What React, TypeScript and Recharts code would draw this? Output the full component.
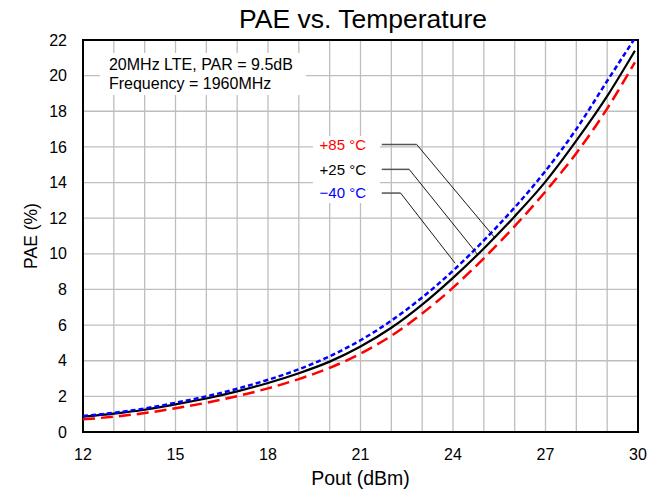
import React from 'react';
import {
  LineChart,
  Line,
  XAxis,
  YAxis,
  CartesianGrid,
  ReferenceArea,
  ReferenceLine,
  ReferenceDot,
} from 'recharts';

// ---- data ----
const pout = [12, 13, 14, 15, 16, 17, 18, 19, 20, 21, 22, 23, 24, 25, 26, 27, 28, 29, 29.9];
const pae25 = [0.86, 1.03, 1.25, 1.55, 1.88, 2.28, 2.75, 3.3, 3.95, 4.8, 5.85, 7.15, 8.65, 10.3, 12.1, 14.05, 16.35, 18.85, 21.4];
const paeM40 = [0.9, 1.08, 1.32, 1.64, 2.0, 2.43, 2.93, 3.52, 4.25, 5.15, 6.25, 7.55, 9.05, 10.75, 12.6, 14.65, 17.0, 19.7, 22.1];
const pae85 = [0.71, 0.86, 1.06, 1.33, 1.64, 2.01, 2.45, 2.97, 3.6, 4.4, 5.4, 6.65, 8.1, 9.75, 11.55, 13.5, 15.65, 18.15, 20.75];

const xTicks = [12, 13, 14, 15, 16, 17, 18, 19, 20, 21, 22, 23, 24, 25, 26, 27, 28, 29, 30];
const xLabelTicks = [12, 15, 18, 21, 24, 27, 30];
const yTicks = [0, 2, 4, 6, 8, 10, 12, 14, 16, 18, 20, 22];

const titleText = 'PAE vs. Temperature';
const xTitle = 'Pout (dBm)';
const yTitle = 'PAE (%)';
const noteLines = ['20MHz LTE, PAR = 9.5dB', 'Frequency = 1960MHz'];

const seriesLabels = ['+85 °C', '+25 °C', '\u221240 °C'];
const seriesColors = ['#FF0000', '#000000', '#0000FF'];
// annotation anchors in data units
const labelX = 21.18;
const labelY = [16.14, 14.74, 13.41];
const leaderStartX = 21.69;
const leaderKneeX = [22.82, 22.58, 22.3];
const leaderEnd = [
  { x: 25.36, y: 10.89 },
  { x: 24.8, y: 9.96 },
  { x: 24.07, y: 9.47 },
];

const data = pout.map((x, i) => ({ x, t25: pae25[i], tm40: paeM40[i], t85: pae85[i] }));

const FONT = '"Liberation Sans", Arial, Helvetica, sans-serif';

const makeAnnLabel = (text: string, color: string) => (props: any) => {
  const vb = props.viewBox || {};
  const cx = (vb.x || 0) + (vb.width || 0) / 2;
  const cy = (vb.y || 0) + (vb.height || 0) / 2;
  return (
    <text x={cx} y={cy} dy="0.36em" textAnchor="end" fill={color} fontSize={15} fontFamily={FONT}>
      {text}
    </text>
  );
};

const noteLabel = (props: any) => {
  const vb = props.viewBox || {};
  const x0 = (vb.x || 0) + 9;
  const y0 = (vb.y || 0) + 11;
  return (
    <g>
      {noteLines.map((t, i) => (
        <text key={i} x={x0} y={y0 + i * 19.3} dy="0.36em" fill="#000" fontSize={16} fontFamily={FONT}>
          {t}
        </text>
      ))}
    </g>
  );
};

const xTitleLabel = (props: any) => {
  const vb = props.viewBox || {};
  const cx = (vb.x || 0) + (vb.width || 0) / 2;
  return (
    <text x={cx} y={485} textAnchor="middle" fill="#000" fontSize={19.5} fontFamily={FONT}>
      {xTitle}
    </text>
  );
};

const yTitleLabel = (props: any) => {
  const vb = props.viewBox || {};
  const cy = (vb.y || 0) + (vb.height || 0) / 2;
  return (
    <text
      x={31}
      y={cy}
      dy="0.36em"
      textAnchor="middle"
      fill="#000"
      fontSize={17.5}
      fontFamily={FONT}
      transform={`rotate(-90 31 ${cy})`}
    >
      {yTitle}
    </text>
  );
};

export default function App() {
  return (
    <div style={{ position: 'absolute', left: 0, top: 0, width: 662, height: 490, background: '#fff' }}>
      <svg width={662} height={40} style={{ position: 'absolute', left: 0, top: 0 }}>
        <text x={363} y={28} textAnchor="middle" fontSize={26.5} fontFamily={FONT} fill="#000">
          {titleText}
        </text>
      </svg>
      <div style={{ position: 'absolute', left: 0, top: 0 }}>
        <LineChart
          width={662}
          height={490}
          data={data}
          margin={{ top: 40, right: 24, left: 23, bottom: 28 }}
        >
          <CartesianGrid stroke="#BEBEBE" strokeWidth={1.3} />
          <XAxis
            dataKey="x"
            type="number"
            domain={[12, 30]}
            ticks={xTicks}
            interval={0}
            tickFormatter={(v: number) => (xLabelTicks.includes(v) ? String(v) : '')}
            axisLine={false}
            tickLine={false}
            tickSize={0}
            tickMargin={17}
            height={30}
            tick={{ fill: '#000', fontSize: 16, fontFamily: FONT }}
            label={xTitleLabel}
          />
          <YAxis
            type="number"
            domain={[0, 22]}
            ticks={yTicks}
            interval={0}
            allowDataOverflow
            axisLine={false}
            tickLine={false}
            tickSize={0}
            tickMargin={16}
            width={60}
            tick={{ fill: '#000', fontSize: 16, fontFamily: FONT }}
            label={yTitleLabel}
          />
          <ReferenceArea
            x1={12.55}
            x2={19.23}
            y1={18.91}
            y2={21.27}
            fill="#fff"
            fillOpacity={1}
            stroke="none"
            label={noteLabel}
          />
          <ReferenceArea x1={19.46} x2={21.63} y1={12.85} y2={16.61} fill="#fff" fillOpacity={1} stroke="none" />
          <Line
            type="monotone"
            dataKey="t85"
            stroke="#FF0000"
            strokeWidth={2.5}
            strokeDasharray="12 6"
            dot={false}
            isAnimationActive={false}
          />
          <Line
            type="monotone"
            dataKey="t25"
            stroke="#000000"
            strokeWidth={2.2}
            dot={false}
            isAnimationActive={false}
          />
          <Line
            type="monotone"
            dataKey="tm40"
            stroke="#0000FF"
            strokeWidth={2.5}
            strokeDasharray="5 3"
            dot={false}
            isAnimationActive={false}
          />
          {labelY.map((y, i) => (
            <ReferenceLine
              key={'h' + i}
              segment={[
                { x: leaderStartX, y },
                { x: leaderKneeX[i], y },
              ]}
              stroke="#555"
              strokeWidth={1.5}
            />
          ))}
          {labelY.map((y, i) => (
            <ReferenceLine
              key={'d' + i}
              segment={[
                { x: leaderKneeX[i], y },
                leaderEnd[i],
              ]}
              stroke="#000"
              strokeWidth={0.9}
            />
          ))}
          {labelY.map((y, i) => (
            <ReferenceDot
              key={'l' + i}
              x={labelX}
              y={y}
              r={0}
              fill="none"
              stroke="none"
              label={makeAnnLabel(seriesLabels[i], seriesColors[i])}
            />
          ))}
          <ReferenceArea x1={12} x2={30} y1={0} y2={22} fill="none" stroke="#000" strokeWidth={2} ifOverflow="visible" />
        </LineChart>
      </div>
    </div>
  );
}
